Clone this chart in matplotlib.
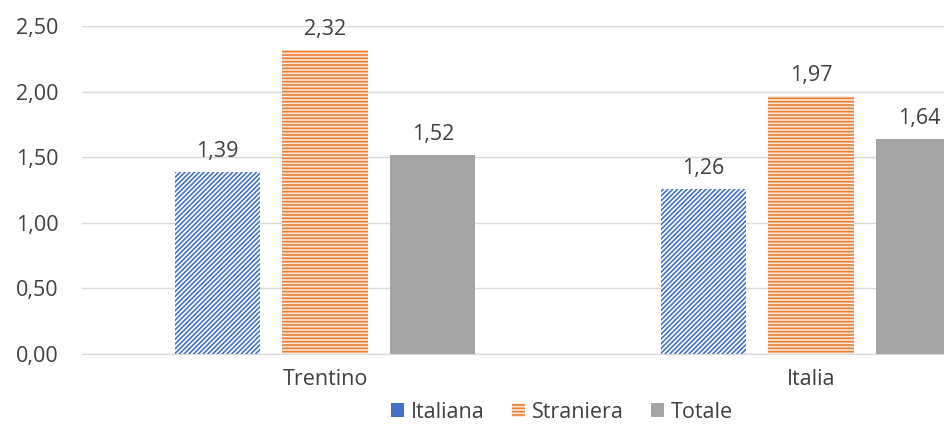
import numpy as np
import matplotlib.pyplot as plt
from matplotlib.patches import Patch

plt.rcParams['font.family'] = ['Open Sans', 'DejaVu Sans']
plt.rcParams['hatch.linewidth'] = 1.2

# Data
categories = ["Trentino", "Italia"]
series_names = ["Italiana", "Straniera", "Totale"]
italiana = [1.39, 1.26]
straniera = [2.32, 1.97]
totale = [1.52, 1.64]

fig = plt.figure(figsize=(9.44, 4.24), dpi=100)
# the plot area runs past the right edge of the figure
ax = fig.add_axes([82 / 944, (424 - 354) / 424, 972 / 944, 328 / 424])

x = np.arange(len(categories))
width = 0.175
offsets = [-0.222, 0.0, 0.222]

blue = "#4472C4"
orange = "#ED7D31"
grey = "#A5A5A5"
txt = "#404040"
fs = 15.5

b1 = ax.bar(x + offsets[0], italiana, width, facecolor="white", edgecolor=blue,
            hatch="///////", linewidth=0, zorder=3)
b2 = ax.bar(x + offsets[1], straniera, width, facecolor="#FCE9DC", edgecolor=orange,
            hatch="-----", linewidth=0, zorder=3)
b3 = ax.bar(x + offsets[2], totale, width, color=grey, linewidth=0, zorder=3)

for bars, vals in [(b1, italiana), (b2, straniera), (b3, totale)]:
    for rect, v in zip(bars, vals):
        ax.annotate(f"{v:.2f}".replace(".", ","),
                    (rect.get_x() + rect.get_width() / 2, v),
                    xytext=(0, 7), textcoords="offset points",
                    ha="center", va="bottom", fontsize=fs, color=txt)

ax.set_xlim(-0.5, 1.5)
ax.set_ylim(0, 2.5)
yt = np.arange(0, 2.51, 0.5)
ax.set_yticks(yt)
ax.set_yticklabels([f"{t:.2f}".replace(".", ",") for t in yt])
ax.set_xticks(x)
ax.set_xticklabels(categories)
ax.tick_params(axis="both", length=0, labelsize=fs, labelcolor=txt)
ax.tick_params(axis="y", pad=17)
ax.tick_params(axis="x", pad=11)
ax.grid(axis="y", color="#D9D9D9", linewidth=1, zorder=0)
for s in ["top", "right", "left"]:
    ax.spines[s].set_visible(False)
ax.spines["bottom"].set_color("#D9D9D9")

handles = [
    Patch(facecolor=blue, linewidth=0, label=series_names[0]),
    Patch(facecolor="#FCE9DC", edgecolor=orange, hatch="-----", linewidth=0,
          label=series_names[1]),
    Patch(facecolor=grey, linewidth=0, label=series_names[2]),
]
fig.legend(handles=handles, loc="center", bbox_to_anchor=(562 / 944, 12 / 424),
           ncol=3, frameon=False, fontsize=fs, handlelength=0.6, handleheight=0.6,
           handletextpad=0.3, columnspacing=1.3, labelcolor=txt)

fig.savefig("out.png", dpi=100)
